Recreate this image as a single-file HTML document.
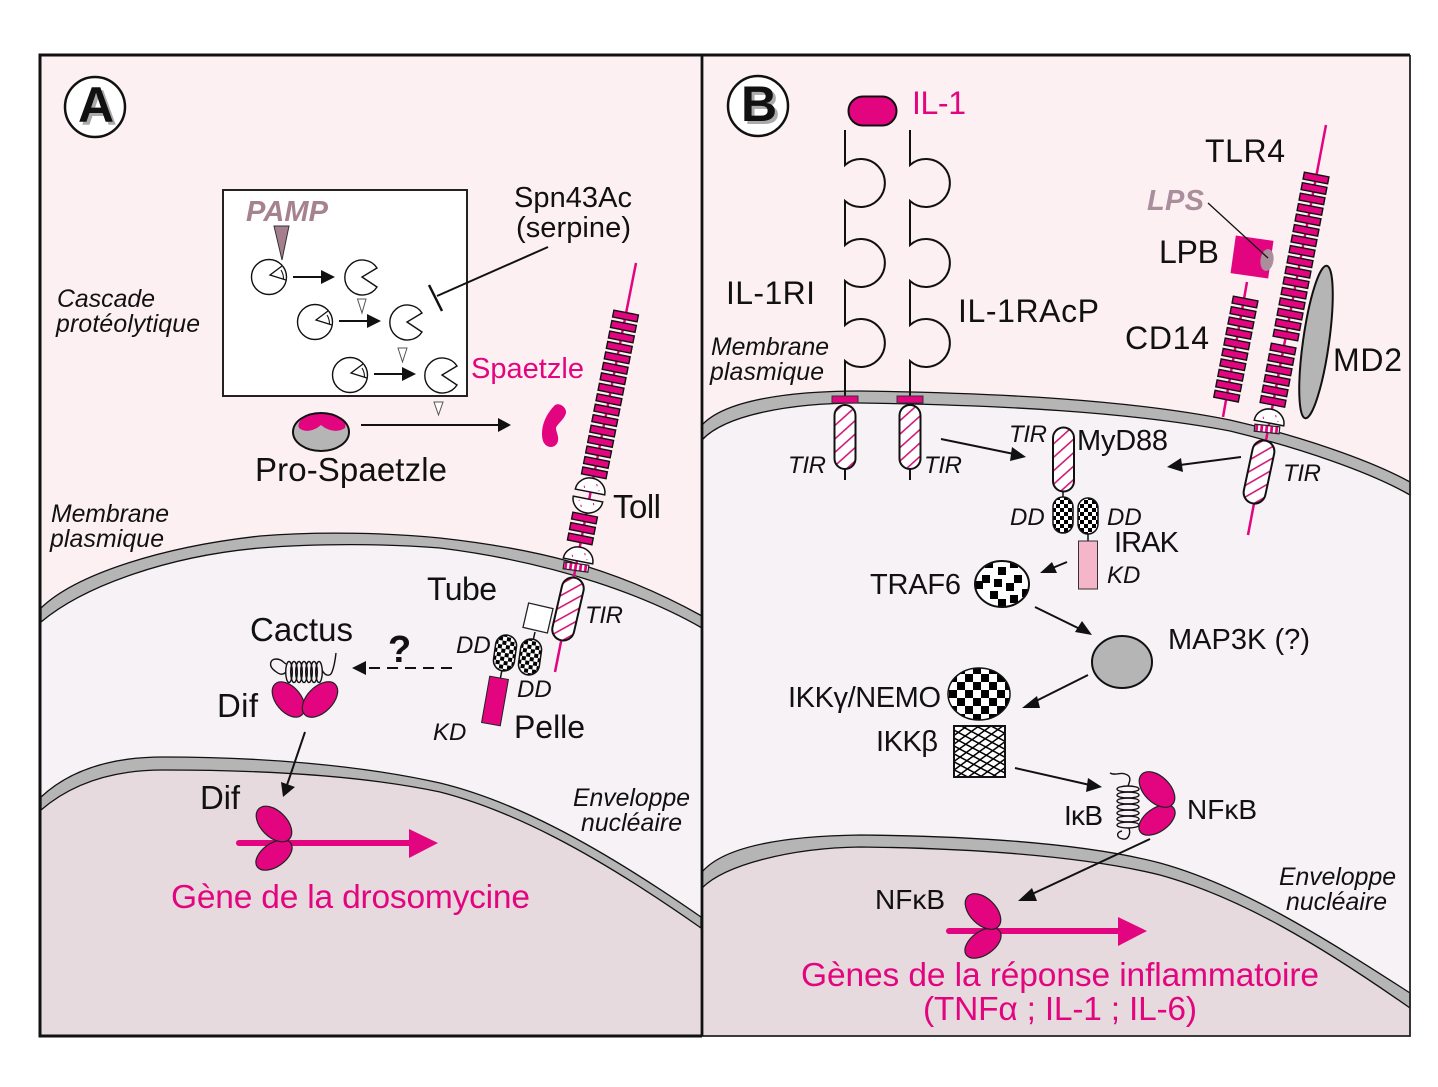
<!DOCTYPE html>
<html><head><meta charset="utf-8"><style>
html,body{margin:0;padding:0;background:#fff}
svg{display:block}
text{font-family:"Liberation Sans",Arial,sans-serif;fill:#111}
.i{font-style:italic;font-size:24.800px}
.t{font-style:italic;font-size:24px}
.m{fill:#e2057f}
.s29{font-size:29px}.s32{font-size:32px}
</style></head><body>
<svg width="1438" height="1087" viewBox="0 0 1438 1087" xmlns="http://www.w3.org/2000/svg">
<defs>
<rect id="bar" x="-12.500" y="-3.500" width="25" height="7" fill="#e2057f" stroke="#111" stroke-width="1.400"/>
<g id="b2"><use href="#bar"/><use href="#bar" y="10.660"/></g>
<g id="b4"><use href="#b2"/><use href="#b2" y="21.320"/></g>
<g id="b8"><use href="#b4"/><use href="#b4" y="42.640"/></g>
<g id="b16"><use href="#b8"/><use href="#b8" y="85.280"/></g>
<pattern id="hatch" patternUnits="userSpaceOnUse" width="10" height="10" patternTransform="rotate(-42)"><rect width="10" height="10" fill="#fff"/><rect y="4" width="10" height="1.600" fill="#d11a78"/></pattern>
<pattern id="chk" patternUnits="userSpaceOnUse" width="8" height="8"><rect width="8" height="8" fill="#fff"/><rect width="4" height="4" fill="#000"/><rect x="4" y="4" width="4" height="4" fill="#000"/></pattern>
<pattern id="chkL" patternUnits="userSpaceOnUse" x="5" y="2" width="16" height="16"><rect width="16" height="16" fill="#fff"/><rect width="8" height="8" fill="#000"/><rect x="8" y="8" width="8" height="8" fill="#000"/></pattern>
<pattern id="cross1" patternUnits="userSpaceOnUse" width="7" height="7" patternTransform="rotate(28)"><rect y="0" width="7" height="1.500" fill="#000"/></pattern>
<pattern id="cross2" patternUnits="userSpaceOnUse" width="7" height="7" patternTransform="rotate(-36)"><rect y="0" width="7" height="1.500" fill="#000"/></pattern>
<pattern id="stripe" patternUnits="userSpaceOnUse" width="5" height="8"><rect width="5" height="8" fill="#e2057f"/><rect x="1" width="2.200" height="8" fill="#fff"/></pattern>
<clipPath id="traf"><ellipse cx="1002" cy="584" rx="27" ry="23"/></clipPath>
<g id="tgt"><path d="M15,-9 A17.500,17.500 0 1 0 15,10 L0,0 Z" fill="#fff" stroke="#111" stroke-width="1.400"/></g>
<g id="enz"><circle r="17.500" fill="#fff" stroke="#111" stroke-width="1.400"/><path d="M17,3 L1,-2 L13,-11" fill="#fff" stroke="#111" stroke-width="1.300"/><path d="M12,-7 Q14.500,-3 14.500,2" fill="none" stroke="#111" stroke-width="1.100"/></g>
<g id="dome"><path d="M-15,0 A15,14 0 0 1 15,0 Z" fill="#fff" stroke="#111" stroke-width="1.500"/><path d="M-7,-5 l1,2 M5,-9 l1,2 M8,-3 l1,0" stroke="#e2057f" stroke-width="1"/></g>
</defs>

<rect width="1438" height="1087" fill="#fff"/>

<!-- Panel A -->
<rect x="40" y="55" width="662" height="981" fill="#fdf0f3"/>
<path d="M41,608 C75,575 160,547 260,536 C320,531 390,533 440,538 C530,548 610,565 702,616 V1036 H40 Z" fill="#f6f2f5"/>
<path d="M41,797 C70,770 110,757 163,757 C260,757 360,765 440,783 C510,800 590,840 701,917 V1036 H40 Z" fill="#e7dade"/>
<path d="M41,608 C75,575 160,547 260,536 C320,531 390,533 440,538 C530,548 610,565 702,616 L702,628 C650,598 560,563 440,548 C390,544 320,543 260,548 C170,556 85,585 41,622 Z" fill="#b5b5b5" stroke="#111" stroke-width="1.300"/>
<path d="M41,797 C70,770 110,757 163,757 C260,757 360,765 440,783 C510,800 590,840 701,917 L701,928 C590,850 510,810 440,792 C360,775 260,770 163,770 C110,770 70,785 41,810 Z" fill="#b5b5b5" stroke="#111" stroke-width="1.300"/>

<!-- Panel B -->
<rect x="702" y="55" width="708" height="981" fill="#fdf0f3"/>
<path d="M702,425 C725,400 790,391 860,391 C1000,393 1130,400 1230,420 C1300,436 1370,460 1410,482 V1036 H702 Z" fill="#f6f2f5"/>
<path d="M702,872 C725,845 790,836 860,835 C960,836 1080,842 1160,863 C1240,885 1320,935 1410,993 V1036 H702 Z" fill="#e7dade"/>
<path d="M702,425 C725,400 790,391 860,391 C1000,393 1130,400 1230,420 C1300,436 1370,460 1410,482 L1410,495 C1370,472 1300,448 1230,431 C1130,412 1000,405 860,403 C790,403 725,415 702,440 Z" fill="#b5b5b5" stroke="#111" stroke-width="1.300"/>
<path d="M702,872 C725,845 790,836 860,835 C960,836 1080,842 1160,863 C1240,885 1320,935 1410,993 L1410,1008 C1320,945 1240,897 1160,875 C1080,855 960,848 860,847 C790,848 725,865 702,888 Z" fill="#b5b5b5" stroke="#111" stroke-width="1.300"/>

<!-- frames -->
<path d="M702,1036 H40 V55 H1410" fill="none" stroke="#111" stroke-width="3"/>
<path d="M1410,55 V1036 H702" fill="none" stroke="#222" stroke-width="1.800"/>
<line x1="702" y1="55" x2="702" y2="1036" stroke="#111" stroke-width="2.800"/>

<!-- badges -->
<circle cx="95" cy="107" r="30" fill="#fff" stroke="#111" stroke-width="2.500"/>
<text x="81" y="125" font-size="50" font-weight="bold" style="fill:#aaa">A</text>
<text x="78" y="122" font-size="50" font-weight="bold">A</text>
<circle cx="758" cy="106" r="30" fill="#fff" stroke="#111" stroke-width="2.500"/>
<text x="744" y="124" font-size="50" font-weight="bold" style="fill:#aaa">B</text>
<text x="741" y="121" font-size="50" font-weight="bold">B</text>

<!-- Protease box -->
<rect x="223" y="190" width="244" height="206" fill="#fff" stroke="#222" stroke-width="2"/>
<text x="246" y="221" font-size="29" font-weight="bold" font-style="italic" style="fill:#a6828f" textLength="82">PAMP</text>
<polygon points="274,226 289,226 282,260" fill="#a67f8e" stroke="#333" stroke-width="1"/>
<use href="#enz" x="269" y="277"/><use href="#tgt" x="362" y="277"/>
<use href="#enz" x="315" y="322"/><use href="#tgt" x="407" y="322"/>
<use href="#enz" x="350" y="375"/><use href="#tgt" x="442" y="375"/>
<g stroke="#111" stroke-width="2"><line x1="293" y1="277" x2="322" y2="277"/><line x1="339" y1="321" x2="368" y2="321"/><line x1="374" y1="374" x2="403" y2="374"/></g>
<polygon points="321,270 335,277 321,284" fill="#111"/><polygon points="367,314 381,321 367,328" fill="#111"/><polygon points="402,367 416,374 402,381" fill="#111"/>
<g fill="#fff" stroke="#555" stroke-width="1"><polygon points="357.500,299 366,299 362,313"/><polygon points="398,348 407,348 402.500,362"/><polygon points="434,402 443,402 438.500,415"/></g>
<line x1="548" y1="247" x2="437" y2="296" stroke="#111" stroke-width="2"/>
<line x1="429" y1="285" x2="442" y2="311" stroke="#111" stroke-width="2.500"/>

<!-- Pro-Spaetzle -->
<ellipse cx="321" cy="432" rx="28" ry="19" fill="#b5b5b5"/>
<path d="M299,428 C296,420 308,413 321,414 C336,413 348,420 345,428 C338,433 328,431 321,425 C314,431 305,433 299,428 Z" fill="#e2057f"/>
<ellipse cx="321" cy="432" rx="28" ry="19" fill="none" stroke="#111" stroke-width="2"/>
<line x1="361" y1="425" x2="500" y2="425" stroke="#111" stroke-width="2"/>
<polygon points="498,418 511,425 498,432" fill="#111"/>
<path d="M555,405 C560,402 567,408 566,413 C564,420 557,424 556,428 C556,432 559,436 558,441 C556,449 546,449 543,441 C540,430 544,416 555,405 Z" fill="#e2057f"/>

<!-- Toll -->
<line x1="636" y1="263" x2="555" y2="672" stroke="#e2057f" stroke-width="2.500"/>
<g transform="translate(625.500,316) rotate(11.200)"><use href="#b16"/></g>
<g transform="translate(584.500,518) rotate(11.200)"><use href="#b2"/><use href="#bar" y="21.320"/></g>
<g transform="translate(590,492) rotate(11.200)"><use href="#dome"/></g>
<g transform="translate(588,499) rotate(191.200)"><use href="#dome"/></g>
<g transform="translate(578,561) rotate(11.200)"><use href="#dome"/></g>
<g transform="translate(576,567) rotate(8)"><rect x="-12.500" y="-3.500" width="25" height="7" fill="url(#stripe)" stroke="#222" stroke-width="1.200"/></g>
<g transform="translate(568,609) rotate(13)"><rect x="-11" y="-32" width="22" height="64" rx="11" fill="url(#hatch)" stroke="#111" stroke-width="2"/></g>
<g transform="translate(538,618) rotate(13)"><rect x="-12.500" y="-12.500" width="25" height="25" fill="#fff" stroke="#222" stroke-width="1.300"/></g>
<line x1="535" y1="632" x2="533" y2="641" stroke="#111" stroke-width="1.500"/>
<line x1="502" y1="670" x2="500" y2="680" stroke="#111" stroke-width="1.500"/>
<g transform="translate(505,653) rotate(8)"><rect x="-10.500" y="-18" width="21" height="36" rx="10.500" fill="url(#chk)" stroke="#111" stroke-width="1.500"/></g>
<g transform="translate(530,657) rotate(8)"><rect x="-10.500" y="-18" width="21" height="36" rx="10.500" fill="url(#chk)" stroke="#111" stroke-width="1.500"/></g>
<g transform="translate(495,701) rotate(10)"><rect x="-9.500" y="-23.500" width="19" height="47" fill="#e2057f" stroke="#222" stroke-width="1"/></g>

<!-- Cactus/Dif -->
<g fill="none" stroke="#111" stroke-width="1.400">
<ellipse cx="289" cy="672" rx="3.300" ry="10.500"/><ellipse cx="294" cy="672" rx="3.300" ry="10.500"/><ellipse cx="299" cy="672" rx="3.300" ry="10.500"/><ellipse cx="304" cy="672" rx="3.300" ry="10.500"/><ellipse cx="309" cy="672" rx="3.300" ry="10.500"/><ellipse cx="314" cy="672" rx="3.300" ry="10.500"/><ellipse cx="319" cy="672" rx="3.300" ry="10.500"/>
<path d="M286,672 C282,676 279,674 275,671 C268,666 270,659 276,659 C281,659 283,662 286,664"/>
<path d="M322,670 C325,676 330,677 332,672 C334,667 335,662 336,653"/>
</g>
<g fill="#e2057f" stroke="#222" stroke-width="1.200">
<ellipse cx="288.500" cy="699.500" rx="20.500" ry="12.500" transform="rotate(50 288.500 699.500)"/>
<ellipse cx="320" cy="699.500" rx="21.500" ry="12.800" transform="rotate(-45 320 699.500)"/>
</g>
<line x1="239" y1="843" x2="412" y2="843" stroke="#e2057f" stroke-width="6" stroke-linecap="round"/>
<polygon points="409,829 438,843 409,858" fill="#e2057f"/>
<ellipse cx="274" cy="855" rx="20.500" ry="11.700" transform="rotate(-35 274 855)" fill="#e2057f" stroke="#222" stroke-width="1.200"/>
<ellipse cx="274" cy="824" rx="21.500" ry="13" transform="rotate(45 274 824)" fill="#e2057f" stroke="#222" stroke-width="1.200"/>
<line x1="305" y1="732" x2="287" y2="785" stroke="#111" stroke-width="2"/>
<polygon points="281,782 295,787 283,797" fill="#111"/>
<line x1="452" y1="668" x2="364" y2="668" stroke="#111" stroke-width="2" stroke-dasharray="11 7"/>
<polygon points="366,661 352,668 366,675" fill="#111"/>

<!-- IL-1 -->
<rect x="848.500" y="96.500" width="48" height="29" rx="14.500" fill="#e2057f" stroke="#111" stroke-width="2"/>
<g fill="none" stroke="#111" stroke-width="2">
<path d="M845,130 V165 A24,24 0 1 1 845,201 V245 A24,24 0 1 1 845,281 V325 A24,24 0 1 1 845,361 V396"/>
<path d="M910,130 V165 A24,24 0 1 1 910,201 V245 A24,24 0 1 1 910,281 V325 A24,24 0 1 1 910,361 V396"/>
<path d="M845,469 V480 M910,469 V480"/>
</g>
<rect x="832" y="396" width="26" height="7" fill="#e2057f" stroke="#333" stroke-width="1"/>
<rect x="897" y="396" width="26" height="7" fill="#e2057f" stroke="#333" stroke-width="1"/>
<rect x="834.500" y="405" width="21" height="64" rx="10.500" fill="url(#hatch)" stroke="#111" stroke-width="2"/>
<rect x="899.500" y="405" width="21" height="64" rx="10.500" fill="url(#hatch)" stroke="#111" stroke-width="2"/>

<!-- TLR4 -->
<line x1="1326" y1="125" x2="1248" y2="535" stroke="#e2057f" stroke-width="2.500"/>
<g transform="translate(1316,178) rotate(10.800)"><use href="#b16"/></g>
<g transform="translate(1283,349) rotate(10.800)"><use href="#b4"/><use href="#b2" y="42.640"/></g>
<g transform="translate(1269,423) rotate(10.800)"><use href="#dome"/></g>
<g transform="translate(1267,429) rotate(6)"><rect x="-12.500" y="-3.500" width="25" height="7" fill="url(#stripe)" stroke="#222" stroke-width="1.200"/></g>
<g transform="translate(1259,472) rotate(12)"><rect x="-11" y="-32" width="22" height="64" rx="11" fill="url(#hatch)" stroke="#111" stroke-width="2"/></g>
<!-- CD14 -->
<line x1="1247" y1="282" x2="1223" y2="417" stroke="#e2057f" stroke-width="2.500"/>
<g transform="translate(1245,302) rotate(11)"><use href="#b8"/><use href="#b2" y="85.280"/></g>
<!-- LPB -->
<g transform="translate(1252,257) rotate(8)"><rect x="-19" y="-19" width="38" height="38" fill="#e2057f"/></g>
<ellipse cx="1267" cy="260" rx="6.500" ry="11" transform="rotate(8 1267 260)" fill="#ab8e9b"/>
<line x1="1208" y1="203" x2="1268" y2="258" stroke="#111" stroke-width="1.300"/>
<!-- MD2 -->
<ellipse cx="1316" cy="342" rx="13" ry="77" transform="rotate(8 1316 342)" fill="#b5b5b5" stroke="#111" stroke-width="2"/>

<!-- MyD88/IRAK -->
<line x1="1063" y1="492" x2="1063" y2="497" stroke="#111" stroke-width="1.500"/>
<rect x="1053" y="427.500" width="21" height="64" rx="10.500" fill="url(#hatch)" stroke="#111" stroke-width="2"/>
<rect x="1053" y="497" width="20" height="36" rx="10" fill="url(#chk)" stroke="#111" stroke-width="1.500"/>
<rect x="1078" y="498" width="20" height="36" rx="10" fill="url(#chk)" stroke="#111" stroke-width="1.500"/>
<line x1="1088" y1="534" x2="1088" y2="541" stroke="#111" stroke-width="1.500"/>
<rect x="1078.500" y="541" width="19" height="48" fill="#f4b6c8" stroke="#333" stroke-width="1"/>
<!-- TRAF6 -->
<ellipse cx="1002" cy="584" rx="27" ry="23" fill="#fff"/>
<g clip-path="url(#traf)" fill="#000">
<rect x="982" y="575" width="8" height="8"/><rect x="998" y="567" width="8" height="8"/><rect x="1014" y="575" width="8" height="8"/><rect x="994" y="579" width="8" height="8"/><rect x="1006" y="583" width="8" height="8"/><rect x="990" y="591" width="8" height="8"/><rect x="998" y="599" width="8" height="8"/><rect x="1010" y="595" width="8" height="8"/><rect x="975" y="581" width="8" height="8"/><rect x="1022" y="589" width="8" height="8"/><rect x="1010" y="562" width="8" height="6"/><rect x="985" y="562" width="8" height="6"/>
</g>
<ellipse cx="1002" cy="584" rx="27" ry="23" fill="none" stroke="#111" stroke-width="2"/>
<!-- MAP3K -->
<ellipse cx="1122" cy="662" rx="30" ry="26" fill="#b5b5b5" stroke="#111" stroke-width="2"/>
<!-- IKK -->
<ellipse cx="979" cy="694" rx="31" ry="26" fill="url(#chkL)" stroke="#111" stroke-width="1.500"/>
<rect x="954" y="726" width="51" height="51" fill="#fff"/>
<rect x="954" y="726" width="51" height="51" fill="url(#cross1)"/>
<rect x="954" y="726" width="51" height="51" fill="url(#cross2)"/>
<rect x="954" y="726" width="51" height="51" fill="none" stroke="#111" stroke-width="2"/>

<!-- IkB coil -->
<g fill="none" stroke="#111" stroke-width="1.400">
<ellipse cx="1128" cy="789" rx="11" ry="3"/><ellipse cx="1128" cy="795" rx="11" ry="3"/><ellipse cx="1128" cy="801" rx="11" ry="3"/><ellipse cx="1128" cy="807" rx="11" ry="3"/><ellipse cx="1128" cy="813" rx="11" ry="3"/><ellipse cx="1128" cy="819" rx="11" ry="3"/><ellipse cx="1128" cy="825" rx="11" ry="3"/>
<path d="M1110,773 C1115,776 1120,772 1125,774 C1132,776 1130,781 1128,786"/>
<path d="M1129,828 C1131,834 1128,840 1123,839 C1116,838 1116,832 1122,831"/>
</g>
<g fill="#e2057f" stroke="#222" stroke-width="1.200">
<ellipse cx="1157" cy="820" rx="20.500" ry="11.700" transform="rotate(-35 1157 820)"/>
<ellipse cx="1157" cy="789.500" rx="21.500" ry="13" transform="rotate(45 1157 789.500)"/>
</g>
<!-- B nuclear -->
<line x1="949" y1="931" x2="1120" y2="931" stroke="#e2057f" stroke-width="6" stroke-linecap="round"/>
<polygon points="1118,917 1147,931 1118,946" fill="#e2057f"/>
<g fill="#e2057f" stroke="#222" stroke-width="1.200">
<ellipse cx="983" cy="943" rx="20.500" ry="11.700" transform="rotate(-35 983 943)"/>
<ellipse cx="983" cy="911.500" rx="21.500" ry="13" transform="rotate(45 983 911.500)"/>
</g>

<!-- B arrows -->
<g stroke="#111" stroke-width="2">
<line x1="941" y1="439" x2="1014" y2="454"/>
<line x1="1241" y1="457" x2="1180" y2="465"/>
<line x1="1067" y1="562" x2="1050" y2="569"/>
<line x1="1035" y1="607" x2="1080" y2="629"/>
<line x1="1088" y1="675" x2="1034" y2="702"/>
<line x1="1015" y1="768" x2="1090" y2="785"/>
<line x1="1150" y1="839" x2="1030" y2="895"/>
</g>
<g fill="#111">
<polygon points="1026,457 1012,447 1010,461"/>
<polygon points="1167,467 1181,458 1183,472"/>
<polygon points="1040,573 1052,562 1057,573"/>
<polygon points="1092,635 1075,632 1082,621"/>
<polygon points="1022,708 1037,696 1040,708"/>
<polygon points="1102,787 1088,778 1086,792"/>
<polygon points="1018,901 1032,888 1037,901"/>
</g>

<!-- Labels A -->
<text x="57" y="307" class="i" textLength="98">Cascade</text>
<text x="56" y="332" class="i" textLength="144">protéolytique</text>
<text x="514" y="207" class="s29" textLength="118">Spn43Ac</text>
<text x="516" y="237" class="s29" textLength="115">(serpine)</text>
<text x="471" y="378" class="s29 m" textLength="113">Spaetzle</text>
<text x="255" y="481" font-size="33" textLength="192">Pro-Spaetzle</text>
<text x="613" y="518" font-size="33" textLength="48">Toll</text>
<text x="51" y="522" class="i" textLength="118">Membrane</text>
<text x="50" y="547" class="i" textLength="114">plasmique</text>
<text x="427" y="600" font-size="32" textLength="70">Tube</text>
<text x="585" y="623" class="t" textLength="38">TIR</text>
<text x="250" y="641" font-size="33" textLength="103">Cactus</text>
<text x="388" y="662" font-size="38" font-weight="bold">?</text>
<text x="456" y="653" class="t">DD</text>
<text x="517" y="697" class="t">DD</text>
<text x="514" y="738" class="s32" textLength="71">Pelle</text>
<text x="433" y="740" class="t">KD</text>
<text x="217" y="717" font-size="33" textLength="41">Dif</text>
<text x="200" y="809" font-size="33" textLength="40">Dif</text>
<text x="573" y="806" class="i" textLength="117">Enveloppe</text>
<text x="581" y="831" class="i" textLength="101">nucléaire</text>
<text x="171" y="908" font-size="33.500" class="m" textLength="359">Gène de la drosomycine</text>

<!-- Labels B -->
<text x="912" y="114" class="s32 m" textLength="54">IL-1</text>
<text x="1205" y="162" class="s32" textLength="80">TLR4</text>
<text x="1147" y="210" font-size="29" font-weight="bold" font-style="italic" style="fill:#ab8e9b" textLength="57">LPS</text>
<text x="1159" y="263" class="s32" textLength="60">LPB</text>
<text x="726" y="304" class="s32" textLength="89">IL-1RI</text>
<text x="958" y="322" class="s32" textLength="141">IL-1RAcP</text>
<text x="1125" y="349" class="s32" textLength="84">CD14</text>
<text x="1333" y="371" class="s32" textLength="69">MD2</text>
<text x="711" y="355" class="i" textLength="118">Membrane</text>
<text x="710" y="380" class="i" textLength="114">plasmique</text>
<text x="788" y="473" class="t" textLength="38">TIR</text>
<text x="924" y="473" class="t" textLength="38">TIR</text>
<text x="1009" y="442" class="t" textLength="38">TIR</text>
<text x="1077" y="450" class="s29" textLength="91">MyD88</text>
<text x="1283" y="481" class="t" textLength="38">TIR</text>
<text x="1010" y="525" class="t">DD</text>
<text x="1107" y="525" class="t">DD</text>
<text x="1114" y="552" class="s29" textLength="65">IRAK</text>
<text x="1107" y="583" class="t">KD</text>
<text x="870" y="594" class="s29" textLength="91">TRAF6</text>
<text x="1168" y="649" class="s29" textLength="142">MAP3K (?)</text>
<text x="788" y="707" class="s29" textLength="153">IKKγ/NEMO</text>
<text x="876" y="751" class="s29" textLength="62">IKKβ</text>
<text x="1064" y="825" font-size="28" textLength="39">IκB</text>
<text x="1187" y="819" font-size="28" textLength="70">NFκB</text>
<text x="875" y="909" font-size="28" textLength="70">NFκB</text>
<text x="1279" y="885" class="i" textLength="117">Enveloppe</text>
<text x="1286" y="910" class="i" textLength="101">nucléaire</text>
<text x="801" y="986" font-size="33.500" class="m" textLength="518">Gènes de la réponse inflammatoire</text>
<text x="923" y="1020" font-size="33.500" class="m" textLength="274">(TNFα ; IL-1 ; IL-6)</text>
</svg>
</body></html>
